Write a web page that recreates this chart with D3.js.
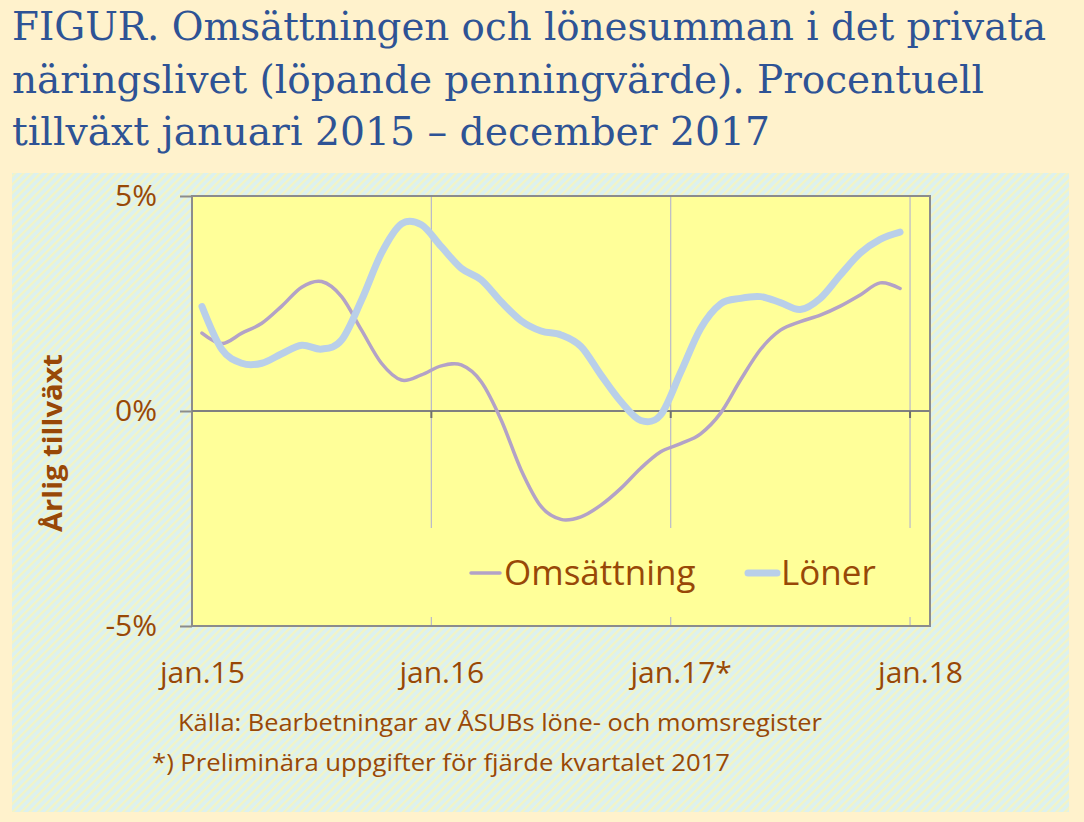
<!DOCTYPE html>
<html>
<head>
<meta charset="utf-8">
<script src="https://cdn.jsdelivr.net/npm/d3@7"></script>
<style>
  html, body { margin: 0; padding: 0; background: #FFF2CC; }
  svg { display: block; }
</style>
</head>
<body>
<svg id="chart" width="1084" height="822"></svg>
<script>
// ---- Data (monthly, Jan 2015 – Dec 2017; percent annual growth) ----
const months = ["2015-01","2015-02","2015-03","2015-04","2015-05","2015-06","2015-07","2015-08","2015-09","2015-10","2015-11","2015-12",
                "2016-01","2016-02","2016-03","2016-04","2016-05","2016-06","2016-07","2016-08","2016-09","2016-10","2016-11","2016-12",
                "2017-01","2017-02","2017-03","2017-04","2017-05","2017-06","2017-07","2017-08","2017-09","2017-10","2017-11","2017-12"];
const omsattning = [1.81, 1.57, 1.81, 2.04, 2.44, 2.88, 3.01, 2.66, 1.88, 1.11, 0.72, 0.84,
                    1.05, 1.07, 0.68, -0.21, -1.37, -2.22, -2.52, -2.46, -2.19, -1.80, -1.33, -0.95,
                    -0.76, -0.53, -0.05, 0.72, 1.43, 1.88, 2.08, 2.23, 2.44, 2.70, 2.98, 2.85];
const loner = [2.43, 1.43, 1.11, 1.11, 1.33, 1.53, 1.44, 1.65, 2.58, 3.67, 4.35, 4.33,
               3.82, 3.32, 3.05, 2.54, 2.10, 1.86, 1.77, 1.50, 0.84, 0.22, -0.22, -0.09,
               0.90, 1.92, 2.49, 2.62, 2.66, 2.52, 2.36, 2.62, 3.16, 3.67, 3.99, 4.16];
const xTickIndex = [0, 12, 24, 36];
const xTickLabels = ["jan.15", "jan.16", "jan.17*", "jan.18"];
const yTickValues = [-5, 0, 5];
const seriesNames = ["Omsättning", "Löner"];
const titleLines = ["FIGUR. Omsättningen och lönesumman i det privata",
                    "näringslivet (löpande penningvärde). Procentuell",
                    "tillväxt januari 2015 – december 2017"];
const sourceLines = ["Källa: Bearbetningar av ÅSUBs löne- och momsregister",
                     "*) Preliminära uppgifter för fjärde kvartalet 2017"];
const yTitle = "Årlig tillväxt";

// ---- Layout ----
const svg = d3.select("#chart");
const brown = "#984807";
const plot = { left: 192, top: 196, right: 930, bottom: 626 };
const nCats = 37; // Jan 2015 .. Jan 2018 categories

const x = d3.scaleLinear().domain([0, nCats]).range([plot.left, plot.right]);
const y = d3.scaleLinear().domain([-5, 5]).range([plot.bottom, plot.top]);

// page background
svg.append("rect").attr("width", 1084).attr("height", 822).attr("fill", "#FFF2CC");

// hatch pattern
const defs = svg.append("defs");
const pat = defs.append("pattern").attr("id", "hatch").attr("patternUnits", "userSpaceOnUse")
  .attr("width", 6).attr("height", 6).attr("patternTransform", "rotate(45)");
pat.append("rect").attr("width", 6).attr("height", 6).attr("fill", "#DCF1F0");
pat.append("rect").attr("width", 2.4).attr("height", 6).attr("fill", "#F2F4C6");

svg.append("rect").attr("x", 12).attr("y", 173).attr("width", 1057).attr("height", 639)
  .attr("fill", "url(#hatch)");

// title
const title = svg.append("g").attr("font-family", "'DejaVu Serif', serif").attr("fill", "#2E5395")
  .attr("font-size", 40);
const titleWidths = [1034, 972, 758];
titleLines.forEach((t, i) => {
  title.append("text").attr("x", 12).attr("y", 40 + i * 52.5).text(t)
    .attr("textLength", titleWidths[i]).attr("lengthAdjust", "spacingAndGlyphs");
});

// plot area
svg.append("rect").attr("x", plot.left).attr("y", plot.top)
  .attr("width", plot.right - plot.left).attr("height", plot.bottom - plot.top)
  .attr("fill", "#FFFF99");

// vertical gridlines at year boundaries
svg.append("g").selectAll("line").data(xTickIndex.slice(1)).join("line")
  .attr("x1", d => x(d)).attr("x2", d => x(d))
  .attr("y1", plot.top).attr("y2", plot.bottom)
  .attr("stroke", "#B8B8CC").attr("stroke-width", 1.2);

// legend box (covers gridlines)
svg.append("rect").attr("x", 425).attr("y", 528).attr("width", 492).attr("height", 89)
  .attr("fill", "#FFFF99");

// plot border
svg.append("rect").attr("x", plot.left).attr("y", plot.top)
  .attr("width", plot.right - plot.left).attr("height", plot.bottom - plot.top)
  .attr("fill", "none").attr("stroke", "#8C8C8C").attr("stroke-width", 2);

// zero line + ticks
svg.append("line").attr("x1", plot.left).attr("x2", plot.right)
  .attr("y1", y(0)).attr("y2", y(0)).attr("stroke", "#808080").attr("stroke-width", 2);
svg.append("g").selectAll("line").data(xTickIndex.slice(1)).join("line")
  .attr("x1", d => x(d)).attr("x2", d => x(d))
  .attr("y1", y(0)).attr("y2", y(0) + 7)
  .attr("stroke", "#707070").attr("stroke-width", 2);

// y axis
const yAxis = d3.axisLeft(y).tickValues(yTickValues).tickSize(12).tickPadding(23)
  .tickFormat(d => d + "%");
const yg = svg.append("g").attr("transform", `translate(${plot.left},0)`).call(yAxis);
yg.select(".domain").remove();
yg.selectAll(".tick line").attr("stroke", "#8C8C8C").attr("stroke-width", 2);
yg.selectAll(".tick text").attr("fill", brown).attr("font-family", "'Open Sans', sans-serif")
  .attr("font-size", 30);

// x axis labels (centred on category)
const xAxis = d3.axisBottom(x).tickValues(xTickIndex.map(d => d + 0.5)).tickSize(0)
  .tickFormat((d, i) => xTickLabels[i]);
const xg = svg.append("g").attr("transform", `translate(0,${plot.bottom})`).call(xAxis);
xg.select(".domain").remove();
xg.selectAll(".tick text").attr("y", 57).attr("dy", 0).attr("fill", brown)
  .attr("font-family", "'Open Sans', sans-serif").attr("font-size", 30);

// y title
svg.append("text").attr("transform", "translate(62,443) rotate(-90)")
  .attr("text-anchor", "middle").attr("font-family", "'Open Sans', sans-serif")
  .attr("font-weight", "bold").attr("font-size", 27).attr("fill", brown)
  .attr("textLength", 178).attr("lengthAdjust", "spacingAndGlyphs").text(yTitle);

// lines
const line = d3.line().x((d, i) => x(i + 0.5)).y(d => y(d)).curve(d3.curveCatmullRom.alpha(0));
svg.append("path").datum(omsattning).attr("d", line).attr("fill", "none")
  .attr("stroke", "#B3A2C7").attr("stroke-width", 3.5).attr("stroke-linecap", "round");
svg.append("path").datum(loner).attr("d", line).attr("fill", "none")
  .attr("stroke", "#B9CFE9").attr("stroke-width", 7).attr("stroke-linecap", "round");

// legend
const legend = svg.append("g").attr("font-family", "'Open Sans', sans-serif").attr("font-size", 35)
  .attr("fill", brown);
const legItems = [
  { name: seriesNames[0], x1: 471, x2: 500, tx: 504, color: "#B3A2C7", w: 3.5 },
  { name: seriesNames[1], x1: 748, x2: 777, tx: 781, color: "#B9CFE9", w: 7 }
];
legItems.forEach(it => {
  legend.append("line").attr("x1", it.x1).attr("x2", it.x2).attr("y1", 573).attr("y2", 573)
    .attr("stroke", it.color).attr("stroke-width", it.w).attr("stroke-linecap", "round");
  legend.append("text").attr("x", it.tx).attr("y", 585).text(it.name);
});

// source notes
const src = svg.append("g").attr("font-family", "'Open Sans', sans-serif").attr("font-size", 24)
  .attr("fill", brown);
src.append("text").attr("x", 178).attr("y", 731).text(sourceLines[0])
  .attr("textLength", 644).attr("lengthAdjust", "spacingAndGlyphs");
src.append("text").attr("x", 152).attr("y", 771).text(sourceLines[1])
  .attr("textLength", 578).attr("lengthAdjust", "spacingAndGlyphs");
</script>
</body>
</html>
